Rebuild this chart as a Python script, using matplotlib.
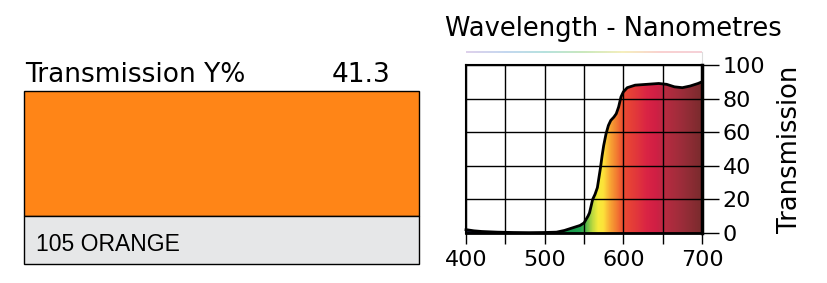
import numpy as np
import matplotlib
matplotlib.use("Agg")
from matplotlib import pyplot as plt
from matplotlib.colors import LinearSegmentedColormap
from matplotlib.patches import Rectangle, Polygon
from matplotlib.collections import LineCollection
from matplotlib.ticker import MultipleLocator

# filter data
filter_name = "105 ORANGE"
y_percent = "41.3"

# transmission curve
wavelength = [400, 410, 420, 440, 460, 480, 500, 515, 525, 535, 545, 550, 555, 557,
              559, 561, 564, 567, 569, 571, 573, 575, 578, 581, 584, 588, 591, 594,
              597, 600, 605, 615, 630, 645, 655, 665, 675, 685, 695, 700]
transmission = [2, 1.3, 0.9, 0.5, 0.3, 0.2, 0.3, 0.5, 1.5, 3, 4.5, 6, 10, 12,
                16, 20, 23, 27, 33, 39, 46, 52, 59, 64, 67, 69, 71, 75,
                81, 84, 86.5, 88, 88.5, 89, 88.5, 87, 86.5, 87.5, 89, 90]

# spectrum colour stops (wavelength, colour)
spec_stops = [(400, "#1b1f4a"), (505, "#1b3060"), (520, "#13904a"), (545, "#1fa552"),
              (552, "#4db44a"), (560, "#b5d640"), (568, "#f6ec3a"), (575, "#fde23a"),
              (583, "#f8a834"), (592, "#f27a31"), (600, "#ec4b32"), (615, "#e33a3a"),
              (630, "#da2444"), (642, "#d01f45"), (655, "#b62b40"), (675, "#9c2d3a"),
              (700, "#7a2b2d")]

fig = plt.figure(figsize=(8.27, 2.83), dpi=100)
plt.rcParams["font.family"] = ["DejaVu Sans"]

# left panel drawn in pixel coordinates
ax0 = fig.add_axes([0, 0, 1, 1])
ax0.set_xlim(0, 827)
ax0.set_ylim(283, 0)
ax0.axis("off")
ax0.add_patch(Rectangle((24, 91), 395, 125, facecolor="#ff8517", edgecolor="black", lw=1))
ax0.add_patch(Rectangle((24, 216), 395, 48, facecolor="#e6e7e8", edgecolor="black", lw=1))
ax0.text(25, 82, "Transmission Y%", fontsize=19, va="baseline", ha="left")
ax0.text(390, 82, y_percent, fontsize=19, va="baseline", ha="right")
ax0.text(36, 251, filter_name, fontsize=16.5, va="baseline", ha="left",
         family=["Liberation Sans", "DejaVu Sans"])
ax0.text(445, 36, "Wavelength - Nanometres", fontsize=18.5, va="baseline", ha="left")

# faint spectrum line above the chart
sx = np.linspace(466, 702, 120)
seg = np.array([[[sx[i], 52], [sx[i + 1], 52]] for i in range(len(sx) - 1)])
faint = LinearSegmentedColormap.from_list(
    "faint", ["#d8c8e8", "#b8d0ec", "#a8dcd8", "#c0e4b0", "#f4ecb0", "#f8c8c8", "#f4c8d0"])
lc = LineCollection(seg, colors=faint(np.linspace(0, 1, len(seg))), lw=1.2)
ax0.add_collection(lc)
ax0.plot([702, 702], [52, 64], color="#dddddd", lw=0.8)

# chart
ax = fig.add_axes([466 / 827, 50 / 283, 236 / 827, 168 / 283])
ax.set_xlim(400, 700)
ax.set_ylim(0, 100)

pos = [(w - 400) / 300 for w, c in spec_stops]
cmap = LinearSegmentedColormap.from_list("spec", list(zip(pos, [c for w, c in spec_stops])))
grad = np.linspace(0, 1, 600).reshape(1, -1)
img = ax.imshow(grad, cmap=cmap, aspect="auto", extent=[400, 700, 0, 100],
                origin="lower", zorder=1, interpolation="bilinear")
verts = list(zip(wavelength, transmission)) + [(700, 0), (400, 0)]
poly = Polygon(verts, closed=True, facecolor="none", edgecolor="none")
ax.add_patch(poly)
img.set_clip_path(poly)

ax.plot(wavelength, transmission, color="black", lw=2, zorder=4,
        solid_joinstyle="round", clip_on=False)

ax.xaxis.set_major_locator(MultipleLocator(100))
ax.xaxis.set_minor_locator(MultipleLocator(50))
ax.yaxis.set_major_locator(MultipleLocator(20))
ax.grid(True, which="both", color="black", lw=1, zorder=2)
ax.set_axisbelow(False)
for ln in ax.get_xgridlines() + ax.get_ygridlines():
    ln.set_zorder(2)

ax.yaxis.tick_right()
ax.tick_params(axis="y", which="both", direction="out", length=12, width=1,
               labelsize=16, pad=3, left=False, right=True)
ax.tick_params(axis="x", which="both", direction="out", length=8, width=1,
               labelsize=16, pad=4)
ax.yaxis.set_label_position("right")
ax.set_ylabel("Transmission", fontsize=18.5, labelpad=8)

ax.spines["left"].set_linewidth(1.5)
ax.spines["top"].set_linewidth(1.5)
ax.spines["right"].set_linewidth(2.5)
ax.spines["bottom"].set_linewidth(2)

fig.savefig("out.png", dpi=100)
